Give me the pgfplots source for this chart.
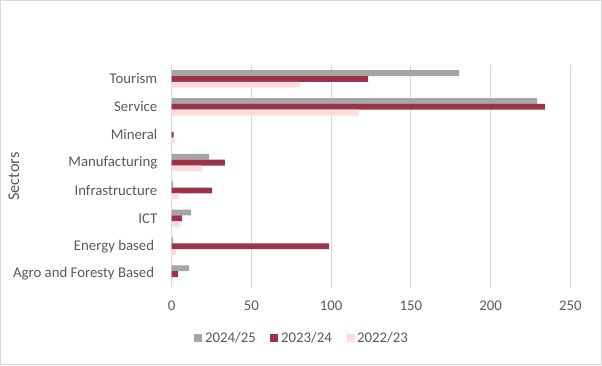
\documentclass[border=0pt]{standalone}
\usepackage{fontspec}
\setmainfont{Carlito}
\usepackage{pgfplots}
\usepackage{pgfplotstable}
\pgfplotsset{compat=1.18}
\definecolor{cgray}{HTML}{A5A5A5}
\definecolor{cred}{HTML}{99344A}
\definecolor{cpink}{HTML}{FFDDDD}
\definecolor{ctext}{HTML}{595959}
\definecolor{cgrid}{HTML}{D9D9D9}
\pgfplotstableread{
y  a     b     c
0  10.9  4.0   0.8
1  0.8   98.7  2.7
2  12.1  6.5   5.2
3  0.8   25.3  4.6
4  23.4  33.4  19.0
5  0.0   1.2   2.0
6  229.2 234.2 117.5
7  180.2 123.1 80.5
}\datatable
\begin{document}
\begin{tikzpicture}[x=1pt,y=1pt]
\path[draw=cgrid, line width=0.75pt] (0.375,0.375) rectangle (451.125,273.375);
\begin{axis}[
  at={(128.8pt,57.75pt)}, anchor=south west,
  scale only axis, width=299pt, height=167.25pt,
  xbar, bar width=4.4pt,
  xmin=0, xmax=250, ymin=-0.5, ymax=7.5,
  xtick={0,50,...,250}, ytick={0,...,7},
  yticklabels={Agro and Foresty Based\kern2.4pt,Energy based\kern2.4pt,ICT,Infrastructure,Manufacturing,Mineral,Service,Tourism},
  xmajorgrids, grid style={cgrid, line width=0.75pt},
  axis line style={draw=none},
  major tick length=0pt,
  /pgf/number format/assume math mode=true,
  tick label style={font=\fontsize{11.1}{13}\selectfont, text=ctext},
  xticklabel style={yshift=-6.3pt},
  yticklabel style={xshift=-7.3pt},
  ylabel={Sectors},
  every axis y label/.style={at={(axis description cs:-0.3957,0.5)}, rotate=90, anchor=center, font=\fontsize{12.3}{14}\selectfont, text=ctext},
  legend columns=3,
  legend style={draw=none, fill=none, at={(axis description cs:0.328,-0.224)}, anchor=center,
    font=\fontsize{11.1}{13}\selectfont, text=ctext,
    /tikz/every even column/.append style={column sep=9pt}},
  legend image code/.code={\fill[#1] (0pt,-3pt) rectangle (6pt,3pt);},
]
\addplot[fill=cgray, draw=none, bar shift=4.4pt] table[x=a, y=y] {\datatable};
\addplot[fill=cred, draw=none, bar shift=0pt] table[x=b, y=y] {\datatable};
\addplot[fill=cpink, draw=none, bar shift=-4.4pt] table[x=c, y=y] {\datatable};
\legend{2024/25,2023/24,2022/23}
\end{axis}
\end{tikzpicture}
\end{document}
